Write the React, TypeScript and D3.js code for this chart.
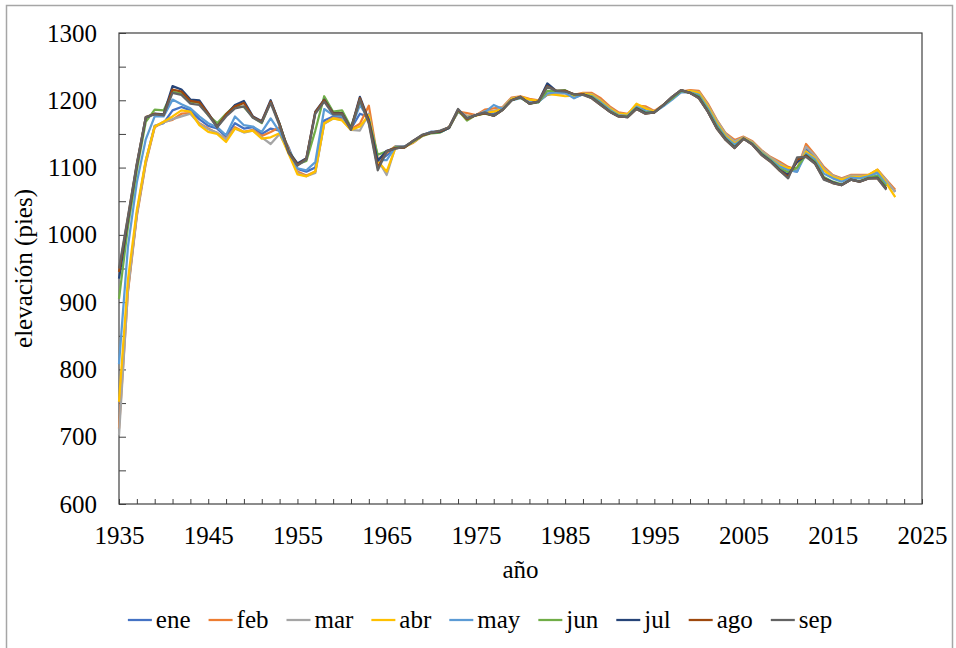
import React, { useEffect, useRef } from 'react';
import * as d3 from 'd3';

// years on the x axis (one value per year, 1935-2022)
const firstYear = 1935;
const lastYear = 2022;
const years = d3.range(firstYear, lastYear + 1);

// end-of-month lake elevation (feet), one array per month, 1935..2022
const ene = [
  null, 920, 1032, 1110, 1162, 1166, 1185, 1190, 1185, 1172,
  1162, 1158, 1146, 1166, 1158, 1160, 1150, 1158, 1155, 1130,
  1098, 1094, 1100, 1170, 1176, 1175, 1158, 1180, 1175, 1108,
  1118, 1130, 1131, 1138, 1148, 1153, 1153, 1160, 1183, 1175,
  1178, 1183, 1180, 1188, 1202, 1204, 1198, 1198, 1208, 1211,
  1212, 1204, 1209, 1207, 1198, 1187, 1179, 1178, 1190, 1187,
  1183, 1192, 1202, 1212, 1212, 1210, 1190, 1168, 1148, 1137,
  1144, 1137, 1124, 1113, 1104, 1097, 1094, 1128, 1116, 1096,
  1087, 1083, 1087, 1086, 1088, 1095, 1080, 1064,
];
const feb = [
  712, 915, 1028, 1106, 1160, 1168, 1171, 1180, 1181, 1166,
  1158, 1151, 1143, 1160, 1153, 1156, 1147, 1153, 1160, 1128,
  1094, 1088, 1094, 1166, 1174, 1172, 1157, 1165, 1192, 1112,
  1122, 1132, 1131, 1137, 1147, 1152, 1154, 1160, 1183, 1181,
  1178, 1186, 1188, 1190, 1204, 1206, 1202, 1200, 1210, 1211,
  1212, 1208, 1211, 1211, 1203, 1191, 1182, 1180, 1192, 1191,
  1184, 1193, 1203, 1213, 1215, 1214, 1195, 1171, 1151, 1141,
  1146, 1139, 1126, 1116, 1109, 1101, 1097, 1135, 1119, 1101,
  1089, 1084, 1089, 1089, 1089, 1097, 1082, 1067,
];
const mar = [
  702, 917, 1030, 1108, 1161, 1167, 1172, 1176, 1180, 1165,
  1157, 1152, 1142, 1158, 1152, 1155, 1145, 1135, 1150, 1125,
  1092, 1087, 1092, 1165, 1173, 1171, 1156, 1155, 1180, 1112,
  1089, 1131, 1131, 1138, 1148, 1153, 1153, 1159, 1184, 1177,
  1177, 1184, 1184, 1189, 1203, 1205, 1200, 1199, 1209, 1210,
  1210, 1207, 1210, 1209, 1200, 1189, 1180, 1179, 1191, 1189,
  1183, 1192, 1203, 1213, 1214, 1212, 1193, 1170, 1150, 1139,
  1145, 1138, 1125, 1115, 1107, 1099, 1097, 1131, 1118, 1099,
  1088, 1083, 1088, 1088, 1088, 1096, 1081, 1064,
];
const abr = [
  752, 933, 1037, 1111, 1161, 1168, 1176, 1185, 1183, 1163,
  1153, 1150, 1138, 1158, 1153, 1155, 1143, 1145, 1151, 1121,
  1090, 1087, 1094, 1166, 1173, 1170, 1156, 1161, 1178, 1110,
  1094, 1130, 1130, 1138, 1148, 1152, 1153, 1160, 1183, 1175,
  1177, 1181, 1183, 1187, 1202, 1205, 1201, 1199, 1209, 1208,
  1206, 1207, 1210, 1208, 1199, 1188, 1180, 1179, 1195, 1188,
  1183, 1192, 1203, 1213, 1214, 1211, 1191, 1167, 1147, 1136,
  1144, 1137, 1123, 1113, 1104, 1099, 1099, 1124, 1114, 1096,
  1086, 1082, 1086, 1086, 1089, 1097, 1077, 1056,
];
const may = [
  808, 982, 1078, 1142, 1176, 1176, 1201, 1194, 1188, 1176,
  1166, 1160, 1148, 1176, 1163, 1161, 1153, 1173, 1153, 1126,
  1099, 1096, 1108, 1187, 1178, 1176, 1158, 1193, 1172, 1111,
  1111, 1131, 1131, 1139, 1148, 1153, 1153, 1160, 1183, 1174,
  1178, 1182, 1193, 1187, 1200, 1203, 1197, 1197, 1210, 1212,
  1211, 1203, 1209, 1206, 1197, 1186, 1178, 1177, 1190, 1184,
  1182, 1191, 1201, 1212, 1212, 1208, 1188, 1164, 1145, 1134,
  1143, 1136, 1122, 1112, 1102, 1096, 1094, 1121, 1112, 1091,
  1084, 1079, 1085, 1084, 1087, 1092, 1075, null,
];
const jun = [
  905, 1012, 1096, 1168, 1186, 1185, 1213, 1210, 1198, 1196,
  1178, 1166, 1180, 1192, 1190, 1175, 1166, 1198, 1165, 1125,
  1105, 1110, 1155, 1206, 1183, 1185, 1160, 1200, 1170, 1119,
  1124, 1130, 1130, 1139, 1147, 1151, 1152, 1159, 1185, 1170,
  1178, 1180, 1177, 1186, 1200, 1204, 1195, 1197, 1214, 1214,
  1215, 1208, 1209, 1205, 1195, 1184, 1177, 1176, 1189, 1182,
  1182, 1193, 1203, 1214, 1211, 1206, 1185, 1161, 1143, 1131,
  1143, 1135, 1121, 1111, 1099, 1093, 1100, 1119, 1109, 1086,
  1079, 1075, 1082, 1080, 1085, 1088, 1072, null,
];
const jul = [
  935, 1022, 1103, 1174, 1180, 1179, 1221, 1216, 1201, 1200,
  1181, 1161, 1178, 1193, 1199, 1176, 1169, 1200, 1165, 1124,
  1106, 1114, 1183, 1201, 1181, 1181, 1158, 1205, 1170, 1110,
  1125, 1129, 1130, 1140, 1148, 1152, 1153, 1159, 1186, 1173,
  1178, 1181, 1177, 1186, 1200, 1205, 1195, 1198, 1225, 1214,
  1214, 1209, 1209, 1204, 1194, 1183, 1176, 1175, 1188, 1181,
  1182, 1193, 1205, 1215, 1211, 1204, 1183, 1159, 1142, 1130,
  1143, 1134, 1120, 1110, 1097, 1089, 1108, 1118, 1107, 1084,
  1078, 1074, 1082, 1079, 1084, 1085, 1069, null,
];
const ago = [
  945, 1025, 1105, 1175, 1180, 1178, 1216, 1213, 1199, 1197,
  1180, 1160, 1179, 1191, 1196, 1175, 1168, 1198, 1164, 1123,
  1104, 1113, 1182, 1200, 1180, 1180, 1157, 1203, 1168, 1100,
  1124, 1129, 1130, 1140, 1148, 1152, 1154, 1160, 1186, 1172,
  1178, 1181, 1177, 1186, 1200, 1205, 1195, 1198, 1221, 1214,
  1214, 1209, 1209, 1203, 1193, 1183, 1176, 1175, 1187, 1180,
  1182, 1193, 1205, 1215, 1211, 1203, 1183, 1158, 1141, 1129,
  1143, 1134, 1119, 1109, 1096, 1086, 1112, 1117, 1106, 1083,
  1077, 1074, 1082, 1079, 1084, 1084, 1068, null,
];
const sep = [
  950, 1027, 1106, 1175, 1179, 1178, 1211, 1208, 1195, 1193,
  1178, 1160, 1176, 1188, 1191, 1174, 1167, 1196, 1162, 1122,
  1103, 1112, 1180, 1198, 1179, 1179, 1156, 1201, 1165, 1096,
  1124, 1128, 1131, 1140, 1149, 1152, 1155, 1160, 1187, 1173,
  1178, 1182, 1177, 1186, 1200, 1205, 1195, 1198, 1220, 1214,
  1213, 1209, 1208, 1203, 1193, 1183, 1176, 1175, 1187, 1180,
  1182, 1193, 1205, 1215, 1211, 1203, 1183, 1158, 1141, 1129,
  1143, 1134, 1119, 1109, 1096, 1084, 1115, 1116, 1106, 1082,
  1077, 1074, 1082, 1079, 1084, 1084, 1067, null,
];

const seriesNames = ['ene', 'feb', 'mar', 'abr', 'may', 'jun', 'jul', 'ago', 'sep'];
const seriesValues = [ene, feb, mar, abr, may, jun, jul, ago, sep];
const seriesColors = ['#4472C4', '#ED7D31', '#A5A5A5', '#FFC000', '#5B9BD5', '#70AD47', '#264478', '#9E480E', '#636363'];

const yTicks = d3.range(600, 1301, 50);
const xTicks = d3.range(1935, 2026, 2);

const FONT = '"Liberation Serif", "Times New Roman", serif';

const App = () => {
  const chartRef = useRef<SVGSVGElement>(null);

  useEffect(() => {
    const width = 956, height = 648;
    const plot = { left: 119, right: 922, top: 33, bottom: 504 };

    const svg = d3.select(chartRef.current);
    svg.selectAll('*').remove();
    svg.attr('width', width).attr('height', height)
      .style('font-family', FONT);

    svg.append('rect')
      .attr('width', width).attr('height', height).attr('fill', '#fff');

    // outer chart border
    svg.append('rect')
      .attr('x', 6.5).attr('y', 5.5)
      .attr('width', 946).attr('height', 670)
      .attr('fill', 'none').attr('stroke', '#a6a6a6').attr('stroke-width', 1.5);

    const x = d3.scaleLinear().domain([1935, 2025]).range([plot.left, plot.right]);
    const y = d3.scaleLinear().domain([600, 1300]).range([plot.bottom, plot.top]);

    // y axis (ticks inside)
    const yAxis = svg.append('g')
      .attr('transform', `translate(${plot.left},0)`)
      .call(d3.axisLeft(y).tickValues(yTicks).tickSizeInner(-7).tickSizeOuter(0).tickPadding(22)
        .tickFormat(d => (+d % 100 === 0 ? String(d) : '')));
    yAxis.selectAll('text').attr('font-size', 25).attr('fill', '#000').attr('font-family', FONT);

    // x axis (ticks inside)
    const xAxis = svg.append('g')
      .attr('transform', `translate(0,${plot.bottom})`)
      .call(d3.axisBottom(x).tickValues(xTicks).tickSizeInner(-5).tickSizeOuter(0).tickPadding(22)
        .tickFormat(d => ((+d - 1935) % 10 === 0 ? String(d) : '')));
    xAxis.selectAll('text').attr('font-size', 25).attr('fill', '#000').attr('font-family', FONT);

    svg.selectAll('.domain').remove();
    svg.selectAll('.tick line').attr('stroke', '#404040');

    // plot frame
    svg.append('rect')
      .attr('x', plot.left).attr('y', plot.top)
      .attr('width', plot.right - plot.left).attr('height', plot.bottom - plot.top)
      .attr('fill', 'none').attr('stroke', '#404040').attr('stroke-width', 1.2);

    // lines
    const line = d3.line<number | null>()
      .defined(d => d != null)
      .x((d, i) => x(years[i]))
      .y(d => y(d as number));

    seriesValues.forEach((vals, k) => {
      svg.append('path')
        .datum(vals)
        .attr('fill', 'none')
        .attr('stroke', seriesColors[k])
        .attr('stroke-width', 2.25)
        .attr('stroke-linejoin', 'round')
        .attr('d', line);
    });

    // axis titles
    svg.append('text')
      .attr('transform', `translate(32,${(plot.top + plot.bottom) / 2}) rotate(-90)`)
      .attr('text-anchor', 'middle')
      .attr('font-size', 25)
      .text('elevación (pies)');

    svg.append('text')
      .attr('x', (plot.left + plot.right) / 2)
      .attr('y', 578)
      .attr('text-anchor', 'middle')
      .attr('font-size', 25)
      .text('año');

    // legend, centred on the chart area
    const legend = svg.append('g');
    const items = seriesNames.map((name, k) => {
      const g = legend.append('g');
      g.append('line')
        .attr('x1', 0).attr('x2', 24).attr('y1', 0).attr('y2', 0)
        .attr('stroke', seriesColors[k]).attr('stroke-width', 2.25);
      const t = g.append('text')
        .attr('x', 28).attr('y', 8)
        .attr('font-size', 25)
        .text(name);
      const w = (t.node() as SVGTextElement).getComputedTextLength();
      return { g, w: 28 + w };
    });
    const gap = 18;
    const total = d3.sum(items, d => d.w) + gap * (items.length - 1);
    let cx = 480 - total / 2;
    items.forEach(it => {
      it.g.attr('transform', `translate(${cx},620)`);
      cx += it.w + gap;
    });
  }, []);

  return (
    <svg ref={chartRef} style={{ position: 'absolute', left: 0, top: 0 }}></svg>
  );
};

export default App;
